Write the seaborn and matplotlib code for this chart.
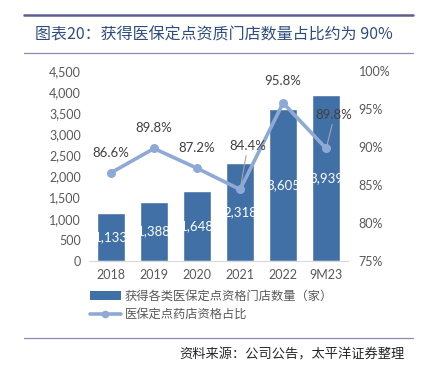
import numpy as np
import pandas as pd
import matplotlib
matplotlib.use('Agg')
import matplotlib.pyplot as plt
import seaborn as sns
from matplotlib.lines import Line2D
from matplotlib.patches import Patch

# 数据
years = ['2018', '2019', '2020', '2021', '2022', '9M23']
stores = [1133, 1388, 1648, 2318, 3605, 3939]
ratio = [86.6, 89.8, 87.2, 84.4, 95.8, 89.8]

bar_color = '#4170A6'
line_color = '#8EA9D6'
grey = '#595959'
cjk = ['Noto Sans CJK SC', 'DejaVu Sans']
num_font = ['Lato', 'DejaVu Sans']

sns.set_style('white')
plt.rcParams['font.family'] = cjk
plt.rcParams['axes.unicode_minus'] = False

fig = plt.figure(figsize=(4.24, 3.70), dpi=100)
ax = fig.add_axes([0.211, 0.295, 0.609, 0.513])

df = pd.DataFrame({'year': years, 'stores': stores, 'ratio': ratio})
sns.barplot(data=df, x='year', y='stores', color=bar_color, width=0.65,
            saturation=1, ax=ax)
ax.set_ylim(0, 4500)
ax.set_yticks(np.arange(0, 4501, 500))
ax.set_yticklabels([f'{v:,}' for v in range(0, 4501, 500)])
ax.set_xlim(-0.5, len(years) - 0.5)
ax.set_xlabel('')
ax.set_ylabel('')
for s in ['top', 'left', 'right']:
    ax.spines[s].set_visible(False)
ax.spines['bottom'].set_color('#D9D9D9')
ax.tick_params(axis='both', length=0, colors=grey, labelsize=9, pad=6)
for lab in ax.get_xticklabels() + ax.get_yticklabels():
    lab.set_family(num_font)

# 柱内数据标签
for i, v in enumerate(stores):
    ax.text(i, v / 2, f'{v:,}', ha='center', va='center', color='white',
            fontsize=9.5, family=num_font)

# 右轴折线
ax2 = ax.twinx()
sns.lineplot(x=np.arange(len(years)), y=ratio, ax=ax2, color=line_color,
             linewidth=2.6, marker='o', markersize=6.5, markeredgewidth=0)
ax2.set_ylim(75, 100)
ax2.set_yticks(np.arange(75, 101, 5))
ax2.set_yticklabels([f'{v}%' for v in range(75, 101, 5)])
for s in ['top', 'left', 'right', 'bottom']:
    ax2.spines[s].set_visible(False)
ax2.tick_params(axis='y', length=0, colors=grey, labelsize=9, pad=8)
for lab in ax2.get_yticklabels():
    lab.set_family(num_font)

# 折线标签偏移（像素）及是否有引线
offsets = [(0, 20), (0, 20), (0, 20), (8, 43), (0, 22), (8, 33)]
leaders = [False, False, False, True, False, True]
for i, v in enumerate(ratio):
    dx, dy = offsets[i]
    ax2.annotate(f'{v}%', xy=(i, v), xytext=(dx, dy),
                 textcoords='offset pixels', ha='center', va='center',
                 color='#404040', fontsize=9.5, family=num_font,
                 annotation_clip=False)
    if leaders[i]:
        ax2.annotate('', xy=(i, v), xytext=(dx - 2, dy - 9),
                     textcoords='offset pixels',
                     arrowprops=dict(arrowstyle='-', color='#A6A6A6', lw=0.8,
                                     shrinkA=0, shrinkB=3))

# 标题和分隔线
fig.add_artist(Line2D([24 / 424, 413 / 424], [1 - 15 / 370] * 2,
                      color='#5E5E92', lw=1.8))
fig.add_artist(Line2D([24 / 424, 413 / 424], [1 - 53 / 370] * 2,
                      color='#8A8AB5', lw=0.9))
fig.add_artist(Line2D([24 / 424, 413 / 424], [1 - 338 / 370] * 2,
                      color='#8A8AB5', lw=0.9))
fig.text(35 / 424, 1 - 35 / 370, '图表20：获得医保定点资质门店数量占比约为 90%',
         ha='left', va='center', fontsize=11.5, color='#2F4D7E', family=cjk)

# 图例
handles = [Patch(facecolor=bar_color, edgecolor='none'),
           Line2D([0], [0], color=line_color, lw=2.6, marker='o',
                  markersize=5.5, markeredgewidth=0)]
labels = ['获得各类医保定点资格门店数量（家）', '医保定点药店资格占比']
fig.legend(handles, labels, loc='upper left',
           bbox_to_anchor=(90 / 424, 1 - 290 / 370), frameon=False,
           labelcolor=grey, handlelength=2.5, handletextpad=0.35,
           labelspacing=0.4, borderaxespad=0, borderpad=0,
           prop={'family': cjk, 'size': 8.8})

fig.text(405 / 424, 1 - 355 / 370, '资料来源：公司公告，太平洋证券整理',
         ha='right', va='center', fontsize=9.5, color='#262626',
         style='italic', family=cjk)

fig.savefig('out.png', dpi=100, facecolor='white')
